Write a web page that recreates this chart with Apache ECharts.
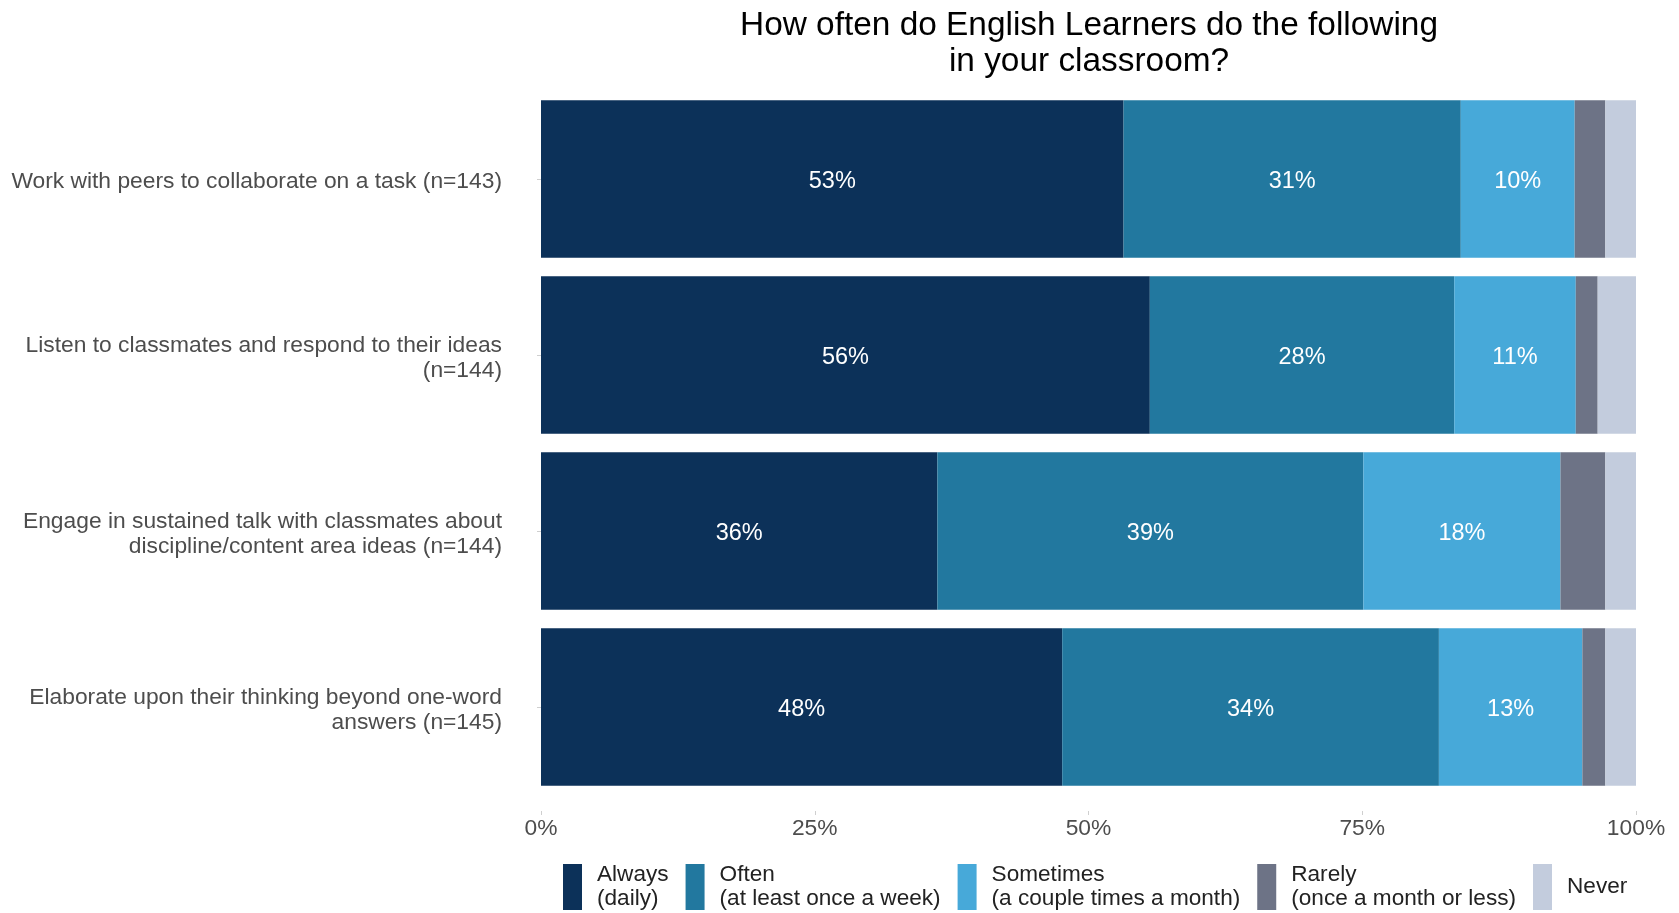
<!DOCTYPE html>
<html>
<head>
<meta charset="utf-8">
<script src="https://cdn.jsdelivr.net/npm/echarts@6/dist/echarts.min.js"></script>
<style>
html,body{margin:0;padding:0;background:#fff;}
#chart{width:1679px;height:913px;}
</style>
</head>
<body>
<div id="chart"></div>
<script>
const categories = [
  "Work with peers to collaborate on a task (n=143)",
  "Listen to classmates and respond to their ideas\n(n=144)",
  "Engage in sustained talk with classmates about\ndiscipline/content area ideas (n=144)",
  "Elaborate upon their thinking beyond one-word\nanswers (n=145)"
];
const seriesNames = [
  "Always\n(daily)",
  "Often\n(at least once a week)",
  "Sometimes\n(a couple times a month)",
  "Rarely\n(once a month or less)",
  "Never"
];
const always    = [53.2, 55.6, 36.2, 47.6];
const often     = [30.8, 27.8, 38.9, 34.4];
const sometimes = [10.4, 11.1, 18.0, 13.1];
const rarely    = [2.8, 2.0, 4.1, 2.1];
const never     = [2.8, 3.5, 2.8, 2.8];
const xTicks = [0, 25, 50, 75, 100];

const colors = ["#0c3159", "#22789f", "#47a9d9", "#6d7386", "#c3ccdd"];
const values = [always, often, sometimes, rarely, never];
const showLabel = [true, true, true, false, false];
const FONT = "Liberation Sans";

const chart = echarts.init(document.getElementById('chart'));
chart.setOption({
  animation: false,
  backgroundColor: '#fff',
  textStyle: {fontFamily: FONT},
  title: {
    text: "How often do English Learners do the following\nin your classroom?",
    left: 1084,
    textAlign: 'center',
    top: 3,
    textStyle: {fontFamily: FONT, fontSize: 33.4, fontWeight: 'normal', color: '#000', lineHeight: 36}
  },
  legend: {
    data: seriesNames,
    left: 563,
    top: 862,
    padding: 0,
    itemGap: 17,
    itemWidth: 19,
    itemHeight: 46,
    icon: 'rect',
    textStyle: {fontFamily: FONT, fontSize: 22.6, color: '#222', lineHeight: 24, padding: [2, 0, 0, 10]}
  },
  grid: {left: 541, right: 43, top: 91, bottom: 118, containLabel: false},
  xAxis: {
    type: 'value',
    min: 0, max: 100, interval: 25,
    offset: 16,
    axisLine: {show: false},
    axisTick: {show: true, length: 4, lineStyle: {color: '#cfcfcf'}},
    splitLine: {show: false},
    axisLabel: {
      margin: 6,
      fontFamily: FONT, fontSize: 22.8, color: '#4d4d4d',
      formatter: v => xTicks.includes(v) ? v + '%' : ''
    }
  },
  yAxis: {
    type: 'category',
    data: categories,
    inverse: true,
    offset: 32,
    axisLine: {show: false},
    axisTick: {show: true, length: 4, alignWithLabel: true, lineStyle: {color: '#cfcfcf'}},
    axisLabel: {
      margin: 7,
      align: 'right',
      verticalAlign: 'middle',
      formatter: v => '{s| }\n' + v.split('\n').map(l => '{a|' + l + '}').join('\n'),
      rich: {
        s: {fontSize: 1, lineHeight: 6},
        a: {fontFamily: FONT, fontSize: 22.8, color: '#4d4d4d', lineHeight: 24.5}
      }
    }
  },
  series: seriesNames.map((name, i) => ({
    name: name,
    type: 'bar',
    stack: 'total',
    barCategoryGap: '10.5%',
    data: values[i],
    itemStyle: {color: colors[i]},
    label: {
      show: showLabel[i],
      position: 'inside',
      offset: [0, 3],
      color: '#fff',
      fontFamily: FONT,
      fontSize: 23.5,
      formatter: p => Math.round(p.value) + '%'
    }
  }))
});
</script>
</body>
</html>
